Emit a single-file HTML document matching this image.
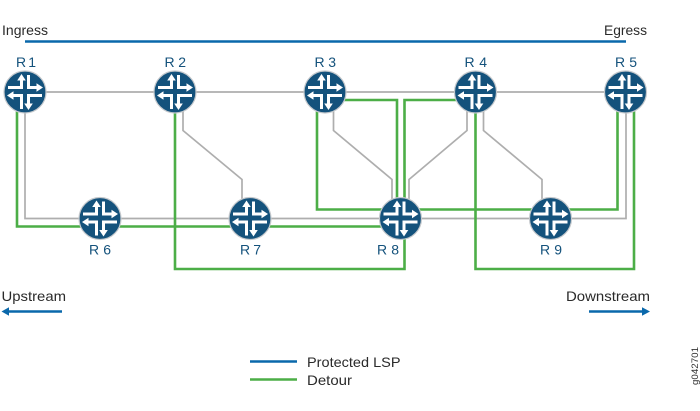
<!DOCTYPE html>
<html><head><meta charset="utf-8"><style>
html,body{margin:0;padding:0;background:#fff}
svg{display:block}
text{font-family:"Liberation Sans",sans-serif}
.t{font-size:14px;fill:#2a2a2a}
.r{font-size:14px;fill:#14527c}
.g{fill:none;stroke:#aeaeae;stroke-width:1.7}
.d{fill:none;stroke:#4cae47;stroke-width:2.6}
</style></head><body>
<svg width="700" height="411" viewBox="0 0 700 411" xmlns="http://www.w3.org/2000/svg">
<defs>
<g id="n">
<circle r="21" fill="#14527c" stroke="#c4c8cc" stroke-width="1.2"/>
<g fill="none" stroke="#fff" stroke-width="3">
<path d="M-17,-4.500H-3.500V-13"/>
<path d="M3.500,-17V-4.500H12"/>
<path d="M-12,3.500H-3.500V17"/>
<path d="M17,3.500H3.500V13"/>
</g>
<g fill="#fff">
<path d="M-3.500,-18L-7.800,-11.500H.8Z"/>
<path d="M18,-4.500L11.500,-8.800V-.2Z"/>
<path d="M-18,3.500L-11.500,-.8V7.800Z"/>
<path d="M3.500,18L-.8,11.500H7.800Z"/>
</g>
</g>
</defs>

<!-- gray links -->
<path class="g" d="M25,92H625"/>
<path class="g" d="M25,100V218.500H626V100"/>
<path class="g" d="M183,100V130.500L242,179.500V205"/>
<path class="g" d="M333.500,100V130.500L392,179.500V205"/>
<path class="g" d="M467,100V130.500L409,179.500V205"/>
<path class="g" d="M483.500,100V130.500L542,179.500V205"/>

<!-- green detours -->
<path class="d" d="M17,105V226.500H390"/>
<path class="d" d="M317,105V209.500H390"/>
<path class="d" d="M330,100H397V205"/>
<path class="d" d="M470,100H404.500V269H175V105"/>
<path class="d" d="M410,209.500H617.500V105"/>
<path class="d" d="M475.500,105V269H634V105"/>

<!-- protected LSP -->
<path d="M25,41.500H626" stroke="#0a68ab" stroke-width="2.600" fill="none"/>

<!-- routers -->
<use href="#n" x="25" y="92"/>
<use href="#n" x="175" y="92"/>
<use href="#n" x="325" y="92"/>
<use href="#n" x="475.500" y="92"/>
<use href="#n" x="625.500" y="92"/>
<use href="#n" x="100" y="218.500"/>
<use href="#n" x="250" y="218.500"/>
<use href="#n" x="400.500" y="218.500"/>
<use href="#n" x="550.500" y="218.500"/>

<!-- router labels -->
<text class="r" x="16" y="67" textLength="20">R 1</text>
<text class="r" x="164.500" y="67" textLength="21.500">R 2</text>
<text class="r" x="314.500" y="67" textLength="21.500">R 3</text>
<text class="r" x="464.500" y="67" textLength="22.500">R 4</text>
<text class="r" x="615" y="67" textLength="22">R 5</text>
<text class="r" x="89" y="254.500" textLength="22">R 6</text>
<text class="r" x="240" y="254.500" textLength="21">R 7</text>
<text class="r" x="377" y="254.500" textLength="22">R 8</text>
<text class="r" x="540" y="254.500" textLength="22">R 9</text>

<!-- labels -->
<text class="t" x="2" y="35" textLength="46" lengthAdjust="spacingAndGlyphs">Ingress</text>
<text class="t" x="604" y="35" textLength="43" lengthAdjust="spacingAndGlyphs">Egress</text>
<text class="t" x="1.500" y="301" textLength="64.500" lengthAdjust="spacingAndGlyphs">Upstream</text>
<text class="t" x="566" y="301" textLength="84" lengthAdjust="spacingAndGlyphs">Downstream</text>

<!-- direction arrows -->
<path d="M62,311.500H8" stroke="#0a68ab" stroke-width="2.600" fill="none"/>
<path d="M1.500,311.500L9,307.300V315.700Z" fill="#0a68ab"/>
<path d="M589,311.500H644" stroke="#0a68ab" stroke-width="2.600" fill="none"/>
<path d="M650,311.500L642,307.300V315.700Z" fill="#0a68ab"/>

<!-- legend -->
<path d="M250,361.500H297" stroke="#0a68ab" stroke-width="2.600" fill="none"/>
<path d="M250,379.500H297" stroke="#4cae47" stroke-width="2.600" fill="none"/>
<text class="t" x="307" y="367" textLength="93.500" lengthAdjust="spacingAndGlyphs">Protected LSP</text>
<text class="t" x="307" y="385" textLength="45" lengthAdjust="spacingAndGlyphs">Detour</text>

<text transform="translate(698,385) rotate(-90)" font-size="9.500" fill="#333" textLength="38" lengthAdjust="spacingAndGlyphs">g042701</text>
</svg>
</body></html>
